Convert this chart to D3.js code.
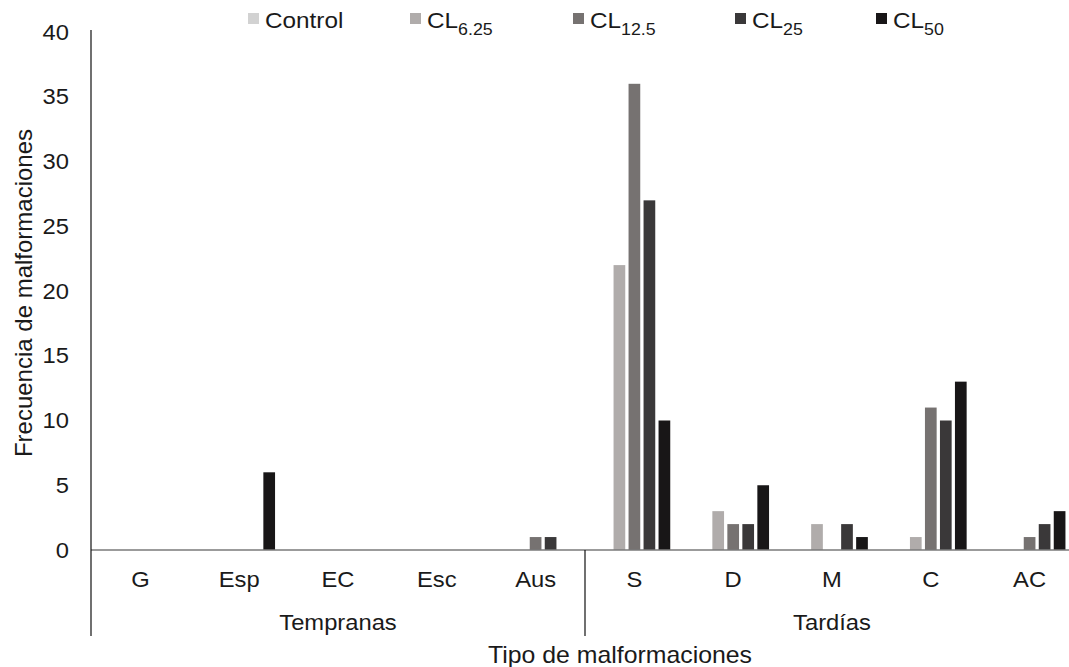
<!DOCTYPE html>
<html>
<head>
<meta charset="utf-8">
<script src="https://cdn.jsdelivr.net/npm/d3@7"></script>
<style>
  html, body { margin: 0; padding: 0; background: #fff; }
  svg { display: block; font-family: "Liberation Sans", Arial, sans-serif; }
</style>
</head>
<body>
<svg id="chart" width="1069" height="667"></svg>
<script>
// Malformation types (x categories) and their group
const categories = ["G", "Esp", "EC", "Esc", "Aus", "S", "D", "M", "C", "AC"];
const groups = [
  { name: "Tempranas", from: "G", to: "Aus" },
  { name: "Tardías", from: "S", to: "AC" }
];

// Treatments: label base and subscript
const seriesNames = ["Control", "CL6.25", "CL12.5", "CL25", "CL50"];
const seriesBase = ["Control", "CL", "CL", "CL", "CL"];
const seriesSub = ["", "6.25", "12.5", "25", "50"];
const seriesColors = ["#d2d2d2", "#b0acab", "#767271", "#3a3839", "#181617"];

// Frequencies per category, one array per treatment
const control = [0, 0, 0, 0, 0, 0, 0, 0, 0, 0];
const cl625   = [0, 0, 0, 0, 0, 22, 3, 2, 1, 0];
const cl125   = [0, 0, 0, 0, 1, 36, 2, 0, 11, 1];
const cl25    = [0, 0, 0, 0, 1, 27, 2, 2, 10, 2];
const cl50    = [0, 6, 0, 0, 0, 10, 5, 1, 13, 3];
const seriesValues = [control, cl625, cl125, cl25, cl50];

const yTicks = [0, 5, 10, 15, 20, 25, 30, 35, 40];

// Layout
const plotLeft = 91, plotRight = 1079, plotTop = 32, plotBase = 550, axisBottom = 636;
const textColor = "#1a1a1a";
const stretch = 1.08;   // slightly wide lettering
const svg = d3.select("#chart");

// Horizontal text anchored at (x, y), widened a little
function wideText(parent, x, y, size, anchor, str) {
  return parent.append("text")
    .attr("transform", `translate(${x},${y}) scale(${stretch},1)`)
    .attr("text-anchor", anchor)
    .attr("font-size", size)
    .attr("fill", textColor)
    .text(str);
}

const x0 = d3.scaleBand().domain(categories).range([plotLeft, plotRight]).padding(0);
const cw = x0.bandwidth();
const groupSpan = 15 * (seriesNames.length - 0.22);
const x1 = d3.scaleBand().domain(seriesNames)
  .range([cw / 2 - groupSpan / 2, cw / 2 + groupSpan / 2])
  .paddingInner(0.22).paddingOuter(0);
const y = d3.scaleLinear().domain([0, 40]).range([plotBase, plotTop]);

// Y axis labels
const yAxis = d3.axisLeft(y).tickValues(yTicks).tickSize(0).tickPadding(0);
const gy = svg.append("g").attr("transform", `translate(${plotLeft},0)`).call(yAxis);
gy.select(".domain").remove();
gy.selectAll("text")
  .attr("x", null)
  .attr("transform", `translate(-22,0) scale(${stretch},1)`)
  .attr("font-size", 22)
  .attr("font-family", "Liberation Sans, Arial, sans-serif")
  .attr("fill", textColor);

// Bars
const rows = [];
categories.forEach((c, i) => {
  seriesNames.forEach((s, j) => {
    rows.push({ cat: c, series: s, value: seriesValues[j][i], color: seriesColors[j] });
  });
});
svg.append("g").selectAll("rect")
  .data(rows.filter(d => d.value > 0))
  .join("rect")
  .attr("x", d => x0(d.cat) + x1(d.series))
  .attr("y", d => y(d.value))
  .attr("width", x1.bandwidth())
  .attr("height", d => y(0) - y(d.value))
  .attr("fill", d => d.color);

// Baseline
svg.append("line")
  .attr("x1", plotLeft).attr("x2", plotRight)
  .attr("y1", y(0)).attr("y2", y(0))
  .attr("stroke", "#7a7a7a").attr("stroke-width", 1.6);

// Vertical axis line (extends into the category label area)
svg.append("line")
  .attr("x1", plotLeft).attr("x2", plotLeft)
  .attr("y1", 30).attr("y2", axisBottom)
  .attr("stroke", "#111").attr("stroke-width", 1.2);

// Group divider
groups.slice(1).forEach(g => {
  const xd = x0(g.from);
  svg.append("line")
    .attr("x1", xd).attr("x2", xd)
    .attr("y1", y(0)).attr("y2", axisBottom)
    .attr("stroke", "#111").attr("stroke-width", 1.2);
});

// Category labels
const catG = svg.append("g");
categories.forEach(c => wideText(catG, x0(c) + cw / 2, 587, 22, "middle", c));

// Group labels
const grpG = svg.append("g");
groups.forEach(g => wideText(grpG, (x0(g.from) + x0(g.to) + cw) / 2, 630, 22, "middle", g.name));

// Axis titles
wideText(svg, 620, 663, 23, "middle", "Tipo de malformaciones");

svg.append("text")
  .attr("transform", "translate(32,293) rotate(-90)")
  .attr("text-anchor", "middle")
  .attr("font-size", 24)
  .attr("fill", textColor)
  .text("Frecuencia de malformaciones");

// Legend
const legendX = [248, 410, 573, 735, 876];
const legend = svg.append("g").selectAll("g")
  .data(seriesNames)
  .join("g")
  .attr("transform", (d, i) => `translate(${legendX[i]},0)`);
legend.append("rect")
  .attr("x", 0).attr("y", 13)
  .attr("width", 11).attr("height", 11)
  .attr("fill", (d, i) => seriesColors[i]);
const lt = legend.append("text")
  .attr("transform", `translate(17,28) scale(${stretch},1)`)
  .attr("font-size", 22.5)
  .attr("fill", textColor);
lt.append("tspan").text((d, i) => seriesBase[i]);
lt.append("tspan")
  .attr("font-size", 16.5)
  .attr("dy", 7)
  .text((d, i) => seriesSub[i]);
</script>
</body>
</html>
